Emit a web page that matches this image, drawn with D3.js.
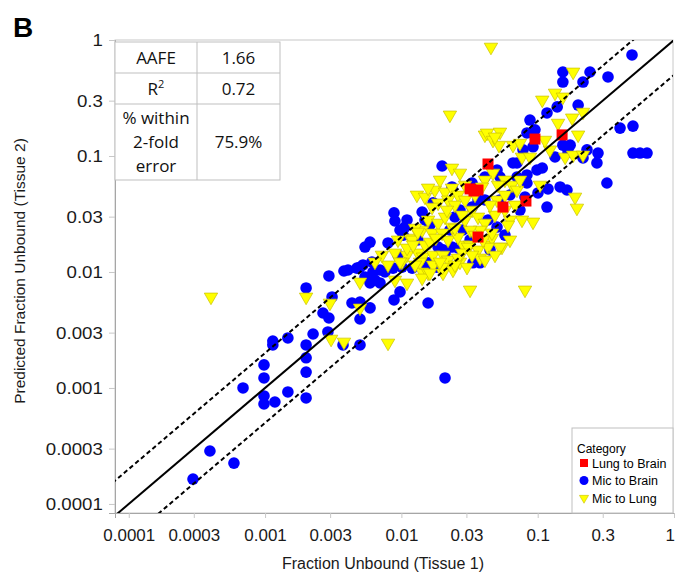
<!DOCTYPE html>
<html>
<head>
<meta charset="utf-8">
<script src="https://cdn.jsdelivr.net/npm/d3@7"></script>
<style>
	body { margin: 0; background: #fff; }
	text { font-family: "Liberation Sans", Arial, sans-serif; }
</style>
</head>
<body>
<div id="chart"></div>
<script>
// Fig B: observed fraction unbound in tissue 1 vs predicted fu in tissue 2 (log-log).
// Values read off the published figure by eye.

let lungToBrain = [
	[0.0432, 0.0853], [0.0341, 0.0499], [0.0319, 0.052], [0.0365, 0.0509],
	[0.0556, 0.0363], [0.0365, 0.02], [0.151, 0.152], [0.0955, 0.14], [0.082, 0.0409]
];

let micToBrain = [
	[0.000296, 0.000164], [0.000394, 0.000286], [0.000591, 0.000225], [0.000689, 0.001],
	[0.000982, 0.00158], [0.000982, 0.00122], [0.000982, 0.000853], [0.000982, 0.000728],
	[0.00118, 0.000757], [0.00147, 0.000924], [0.00114, 0.00254], [0.00114, 0.00235],
	[0.00147, 0.0027], [0.002, 0.00728], [0.002, 0.00235], [0.002, 0.00182],
	[0.002, 0.00137], [0.002, 0.00082], [0.00225, 0.00292], [0.00266, 0.00443],
	[0.00294, 0.00401], [0.00289, 0.00304], [0.0031, 0.00609], [0.00294, 0.00924],
	[0.00379, 0.0102], [0.00373, 0.00235], [0.00497, 0.00235], [0.00497, 0.00393],
	[0.00434, 0.0054], [0.00497, 0.00551], [0.00589, 0.0049], [0.00472, 0.0108],
	[0.00523, 0.0115], [0.00608, 0.0122], [0.00619, 0.01], [0.00697, 0.0104],
	[0.00758, 0.01], [0.0064, 0.00853], [0.00589, 0.00804], [0.00697, 0.00804],
	[0.00868, 0.0108], [0.0101, 0.011], [0.00977, 0.00673], [0.00883, 0.00574],
	[0.0157, 0.0054], [0.00541, 0.0164], [0.00589, 0.0181], [0.00798, 0.0178],
	[0.00406, 0.0104], [0.00497, 0.011], [0.00541, 0.00906], [0.00977, 0.023],
	[0.0103, 0.0208], [0.00883, 0.0323], [0.00897, 0.0275], [0.011, 0.0281],
	[0.0106, 0.0244], [0.0142, 0.0329], [0.0149, 0.0281], [0.0171, 0.0394],
	[0.0235, 0.0541], [0.0199, 0.082], [0.0335, 0.012], [0.0378, 0.012],
	[0.0209, 0.00122], [0.0247, 0.0298], [0.0283, 0.023], [0.0235, 0.0164],
	[0.0209, 0.0146], [0.0157, 0.012], [0.0182, 0.011], [0.012, 0.0108],
	[0.0149, 0.0104], [0.0186, 0.0164], [0.026, 0.0161], [0.033, 0.0363],
	[0.0365, 0.0418], [0.0432, 0.0281], [0.0503, 0.0244], [0.041, 0.0659],
	[0.033, 0.0585], [0.0202, 0.0155], [0.0659, 0.0871], [0.492, 0.743],
	[0.153, 0.53], [0.153, 0.434], [0.242, 0.53], [0.215, 0.434],
	[0.328, 0.48], [0.198, 0.275], [0.139, 0.265], [0.117, 0.235],
	[0.0878, 0.204], [0.0834, 0.158], [0.0955, 0.168], [0.078, 0.113],
	[0.0924, 0.12], [0.402, 0.174], [0.5, 0.181], [0.5, 0.106],
	[0.563, 0.106], [0.634, 0.106], [0.153, 0.124], [0.173, 0.124],
	[0.167, 0.108], [0.134, 0.098], [0.23, 0.113], [0.277, 0.106],
	[0.272, 0.0871], [0.322, 0.0585], [0.215, 0.0961], [0.108, 0.0788],
	[0.0988, 0.0757], [0.0834, 0.0686], [0.0834, 0.0585], [0.0705, 0.0659],
	[0.0705, 0.0871], [0.146, 0.0541], [0.164, 0.0509], [0.119, 0.052],
	[0.117, 0.0363], [0.1005, 0.048], [0.0807, 0.0443], [0.0503, 0.0757],
	[0.0529, 0.0659], [0.0132, 0.0189], [0.0227, 0.023], [0.0319, 0.0189],
	[0.0447, 0.0155], [0.0575, 0.0208], [0.0269, 0.0342], [0.0626, 0.0461],
	[0.0529, 0.0418], [0.0741, 0.0342], [0.041, 0.0418], [0.00944, 0.014],
	[0.0162, 0.0254]
];

let micToLung = [
	[0.000401, 0.00609], [0.002, 0.00609], [0.00299, 0.0054], [0.00305, 0.00264],
	[0.00379, 0.00249], [0.00798, 0.00244], [0.00497, 0.0049], [0.00497, 0.0082],
	[0.00897, 0.00853], [0.011, 0.00804], [0.0142, 0.01], [0.0157, 0.0098],
	[0.0142, 0.00888], [0.00897, 0.0146], [0.011, 0.014], [0.0132, 0.0146],
	[0.0144, 0.0135], [0.0171, 0.014], [0.0171, 0.0115], [0.0202, 0.014],
	[0.022, 0.0127], [0.0202, 0.0098], [0.0239, 0.0104], [0.0269, 0.0122],
	[0.0319, 0.007], [0.0807, 0.007], [0.0283, 0.0171], [0.0319, 0.0171],
	[0.0432, 0.0171], [0.0547, 0.0164], [0.0149, 0.0171], [0.0162, 0.0181],
	[0.0235, 0.0788], [0.0269, 0.0713], [0.013, 0.0461], [0.0149, 0.0443],
	[0.0176, 0.0509], [0.0209, 0.0489], [0.0235, 0.053], [0.026, 0.0461],
	[0.022, 0.0418], [0.0186, 0.0394], [0.0168, 0.0363], [0.0116, 0.0196],
	[0.011, 0.0161], [0.0199, 0.011], [0.0303, 0.011], [0.0162, 0.0098],
	[0.0227, 0.226], [0.0454, 0.869], [0.041, 0.152], [0.0425, 0.158],
	[0.0529, 0.161], [0.047, 0.137], [0.052, 0.124], [0.047, 0.0713],
	[0.041, 0.0621], [0.039, 0.0541], [0.182, 0.53], [0.134, 0.349],
	[0.153, 0.323], [0.108, 0.304], [0.215, 0.239], [0.179, 0.213],
	[0.141, 0.192], [0.198, 0.152], [0.0659, 0.124], [0.0741, 0.129],
	[0.159, 0.098], [0.182, 0.102], [0.215, 0.102], [0.0767, 0.098],
	[0.0878, 0.098], [0.0486, 0.146], [0.188, 0.0443], [0.194, 0.0356],
	[0.0924, 0.027], [0.0767, 0.0281], [0.0575, 0.0621], [0.0648, 0.0562],
	[0.0705, 0.0509], [0.0462, 0.0196], [0.0529, 0.0164], [0.0157, 0.0281],
	[0.0142, 0.023], [0.0168, 0.0217], [0.0186, 0.0264], [0.0209, 0.0298],
	[0.0235, 0.0244], [0.0199, 0.0217], [0.022, 0.0189], [0.026, 0.02],
	[0.0293, 0.0281], [0.033, 0.0342], [0.0365, 0.0298], [0.041, 0.0264],
	[0.0462, 0.0217], [0.0432, 0.0164], [0.0365, 0.0155], [0.0308, 0.0164],
	[0.0279, 0.0146], [0.0126, 0.0239], [0.012, 0.0189], [0.0137, 0.0122],
	[0.0101, 0.0122], [0.0247, 0.0378], [0.0293, 0.0418], [0.0347, 0.0461],
	[0.0503, 0.0418], [0.0575, 0.0342], [0.0626, 0.0281], [0.0512, 0.0562],
	[0.0378, 0.023], [0.0319, 0.023], [0.026, 0.0132], [0.0378, 0.0132],
	[0.0605, 0.0254], [0.0681, 0.0378], [0.0741, 0.0621], [0.104, 0.0562],
	[0.123, 0.113], [0.113, 0.137],
	[0.00977, 0.0122], [0.0122, 0.0171], [0.0132, 0.0221], [0.0179, 0.0196],
	[0.0247, 0.0239], [0.0216, 0.0342], [0.0279, 0.031], [0.0347, 0.0208],
	[0.0397, 0.0189], [0.0486, 0.031], [0.0447, 0.0378], [0.0575, 0.0461],
	[0.0293, 0.0562], [0.0192, 0.0621], [0.0157, 0.053], [0.00944, 0.0189],
	[0.00798, 0.0115], [0.0126, 0.0115], [0.0192, 0.0122], [0.0247, 0.0115],
	[0.033, 0.014], [0.041, 0.0127], [0.0486, 0.014], [0.0626, 0.0189],
	[0.0072, 0.014], [0.0064, 0.0122]
];

let tickValues 	= [0.0001, 0.0003, 0.001, 0.003, 0.01, 0.03, 0.1, 0.3, 1];
let tickLabels 	= ["0.0001", "0.0003", "0.001", "0.003", "0.01", "0.03", "0.1", "0.3", "1"];

let categories 	= ["Lung to Brain", "Mic to Brain", "Mic to Lung"];
let foldLines 	= [1, 2, 0.5];		// y = k * x

let statNames 	= ["AAFE", "R2", "% within|2-fold|error"];
let statValues 	= ["1.66", "0.72", "75.9%"];

let width 	= 676;
let height 	= 572;

let plot = { left: 115, right: 674, top: 40, bottom: 513 };

let x = d3.scaleLog()
	.domain([Math.pow(10, -4.101), 1])
	.range([plot.left, plot.right]);

let y = d3.scaleLog()
	.domain([Math.pow(10, -4.078), 1])
	.range([plot.bottom, plot.top]);

let svg = d3.select("#chart").append("svg")
	.attr("width", width)
	.attr("height", height);

svg.append("defs").append("clipPath").attr("id", "plotclip")
	.append("rect")
	.attr("x", plot.left).attr("y", plot.top)
	.attr("width", plot.right - plot.left - 1).attr("height", plot.bottom - plot.top);

// plot frame
svg.append("rect")
	.attr("x", plot.left).attr("y", plot.top)
	.attr("width", plot.right - plot.left - 1).attr("height", plot.bottom - plot.top)
	.attr("fill", "none")
	.attr("stroke", "#c8c8c8");

// axes
let yAxis = svg.append("g")
	.attr("transform", "translate(" + plot.left + ",0)")
	.call(d3.axisLeft(y).tickValues(tickValues).tickFormat((d, i) => tickLabels[i]).tickSize(6).tickPadding(5));

let xAxis = svg.append("g")
	.attr("transform", "translate(0," + plot.bottom + ")")
	.call(d3.axisBottom(x).tickValues(tickValues).tickFormat((d, i) => tickLabels[i]).tickSize(5).tickPadding(12));

[xAxis, yAxis].forEach(a => {
	a.select(".domain").attr("stroke", "#a6a6a6");
	a.selectAll(".tick line").attr("stroke", "#c8c8c8");
	a.selectAll(".tick text")
		.attr("fill", "#1a1a1a")
		.style("font-family", "'Liberation Sans', Arial, sans-serif");
});
yAxis.selectAll(".tick text").style("font-size", "17px").attr("transform", "scale(1.1,1)");
xAxis.selectAll(".tick text").style("font-size", "16px").attr("transform", "scale(1.06,1)");
// last label sits on the right edge
xAxis.selectAll(".tick text").filter((d, i) => i == tickValues.length - 1).attr("dx", "-0.25em");

// markers
let g = svg.append("g").attr("clip-path", "url(#plotclip)");

g.selectAll(".mb")
	.data(micToBrain).enter().append("circle")
	.attr("cx", d => x(d[0]))
	.attr("cy", d => y(d[1]))
	.attr("r", 5.8)
	.attr("fill", "#0000ff");

let tri = d3.symbol().type(d3.symbolTriangle).size(78);

g.selectAll(".ml")
	.data(micToLung).enter().append("path")
	.attr("d", tri)
	.attr("transform", d => "translate(" + x(d[0]) + "," + y(d[1]) + ") rotate(180)")
	.attr("fill", "#ffff00")
	.attr("stroke", "#c9c000")
	.attr("stroke-width", 0.7);

g.selectAll(".lb")
	.data(lungToBrain).enter().append("rect")
	.attr("x", d => x(d[0]) - 5.5)
	.attr("y", d => y(d[1]) - 5.5)
	.attr("width", 11)
	.attr("height", 11)
	.attr("fill", "#ff0000");

// identity and 2-fold lines
let span = [0.00001, 10];
foldLines.forEach(k => {
	g.append("path")
		.datum(span)
		.attr("fill", "none")
		.attr("stroke", "#000")
		.attr("stroke-width", 2)
		.attr("stroke-dasharray", k == 1 ? null : "4.5,3")
		.attr("d", d3.line().x(d => x(d)).y(d => y(k * d)));
});

// stats table
let colX 	= [plot.left, 197, 280];
let rowY 	= [42, 73, 104, 180];
let tbl = svg.append("g").style("font-size", "17px");

tbl.append("rect")
	.attr("x", colX[0]).attr("y", rowY[0])
	.attr("width", colX[2] - colX[0]).attr("height", rowY[3] - rowY[0])
	.attr("fill", "#fff").attr("stroke", "#bfbfbf");
tbl.append("line").attr("x1", colX[1]).attr("x2", colX[1]).attr("y1", rowY[0]).attr("y2", rowY[3]).attr("stroke", "#bfbfbf");
[rowY[1], rowY[2]].forEach(r => {
	tbl.append("line").attr("x1", colX[0]).attr("x2", colX[2]).attr("y1", r).attr("y2", r).attr("stroke", "#bfbfbf");
});

statNames.forEach((name, i) => {
	let mid 	= (rowY[i] + rowY[i + 1]) / 2;
	let lines 	= name.split("|");
	let t = tbl.append("text")
		.attr("x", (colX[0] + colX[1]) / 2)
		.attr("text-anchor", "middle")
		.attr("fill", "#111")
		.style("font-family", "'Open Sans', sans-serif");
	if (name == "R2") {
		t.attr("y", mid + 6);
		t.append("tspan").text("R");
		t.append("tspan").attr("dy", -7).style("font-size", "11px").text("2");
	} else {
		lines.forEach((ln, j) => {
			t.append("tspan")
				.attr("x", (colX[0] + colX[1]) / 2)
				.attr("y", mid + 6 + (j - (lines.length - 1) / 2) * 24)
				.text(ln);
		});
	}
	tbl.append("text")
		.attr("x", (colX[1] + colX[2]) / 2)
		.attr("y", mid + 6)
		.attr("text-anchor", "middle")
		.attr("fill", "#111")
		.style("font-family", "'Open Sans', sans-serif")
		.text(statValues[i]);
});

// legend
let leg = svg.append("g");
leg.append("rect")
	.attr("x", 572).attr("y", 428)
	.attr("width", plot.right - 1 - 572).attr("height", plot.bottom - 428)
	.attr("fill", "#fff").attr("stroke", "#bfbfbf");
leg.append("text")
	.attr("x", 577).attr("y", 453)
	.style("font-size", "12px")
	.text("Category");

categories.forEach((c, i) => {
	let cy = 463 + i * 17.5;
	if (i == 0) {
		leg.append("rect").attr("x", 580).attr("y", cy - 4).attr("width", 8).attr("height", 8).attr("fill", "#ff0000");
	} else if (i == 1) {
		leg.append("circle").attr("cx", 584).attr("cy", cy).attr("r", 4.5).attr("fill", "#0000ff");
	} else {
		leg.append("path").attr("d", d3.symbol().type(d3.symbolTriangle).size(36))
			.attr("transform", "translate(584," + cy + ") rotate(180)")
			.attr("fill", "#ffff00").attr("stroke", "#c9c000").attr("stroke-width", 0.6);
	}
	leg.append("text")
		.attr("x", 592).attr("y", cy + 4.5)
		.style("font-size", "12.5px")
		.text(c);
});

// titles
svg.append("text")
	.attr("x", 383).attr("y", 569)
	.attr("text-anchor", "middle")
	.style("font-size", "16px")
	.attr("fill", "#1a1a1a")
	.text("Fraction Unbound (Tissue 1)");

svg.append("text")
	.attr("transform", "translate(25,271) rotate(-90)")
	.attr("text-anchor", "middle")
	.style("font-size", "15.5px")
	.attr("fill", "#1a1a1a")
	.text("Predicted Fraction Unbound (Tissue 2)");

svg.append("text")
	.attr("x", 13).attr("y", 37)
	.style("font-size", "28px")
	.style("font-weight", "bold")
	.text("B");
</script>
</body>
</html>
